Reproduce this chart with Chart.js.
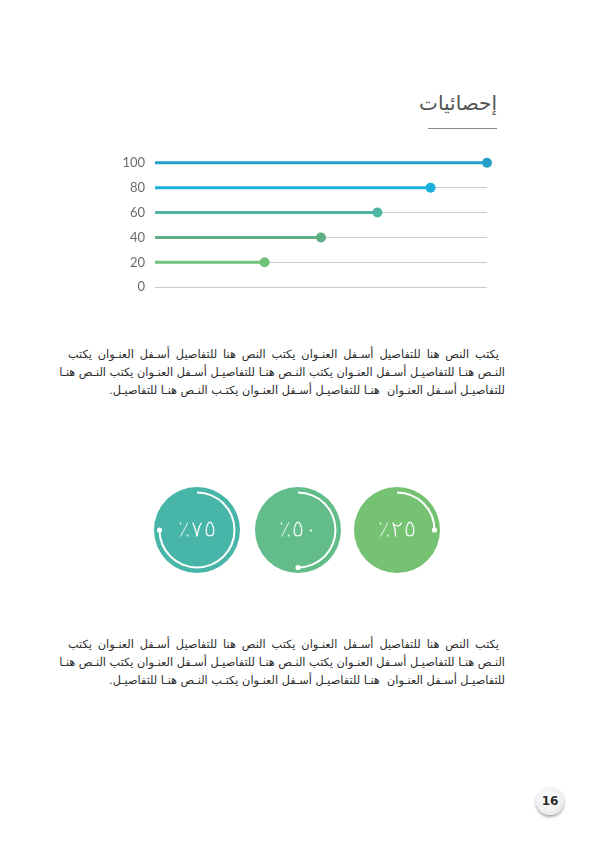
<!DOCTYPE html>
<html lang="ar">
<head>
<meta charset="utf-8">
<script src="https://cdn.jsdelivr.net/npm/chart.js@4/dist/chart.umd.min.js"></script>
<style>
  html, body { margin: 0; padding: 0; background: #fff; }
  #page { position: relative; width: 595px; height: 842px; overflow: hidden; }
  .titulo {
    position: absolute; right: 98px; top: 91px;
    font-family: "DejaVu Sans", sans-serif; font-size: 20px; color: #555;
    direction: rtl;
  }
  .subrayado { position: absolute; left: 428px; top: 128px; width: 69px; height: 1px; background: #8a8a8a; }
  .parrafo {
    position: absolute; left: 68px; width: 437px;
    font-family: "DejaVu Sans", sans-serif; font-size: 11.3px; color: #2a2a2a;
    line-height: 18px; direction: rtl;
  }
  .parrafo div { text-align: justify; text-align-last: justify; white-space: nowrap; }
  .parrafo div.primera { margin-right: 6px; }
  .parrafo div.ultima { text-align: right; text-align-last: right; }
  #barras { position: absolute; left: 100px; top: 145px; width: 400px; height: 160px; }
  .circulo { position: absolute; width: 96px; height: 96px; }
  .circulo canvas { position: absolute; left: 0; top: 0; }
  .pagina {
    position: absolute; left: 536px; top: 787px; width: 28px; height: 28px; border-radius: 50%;
    background: radial-gradient(circle at 45% 40%, #ffffff 0%, #f1f1f1 55%, #d6d6d6 100%);
    box-shadow: 0 2px 3px rgba(0,0,0,0.35);
    font-family: "DejaVu Sans", sans-serif; font-weight: bold; font-size: 12px; color: #2a2a2a;
    text-align: center; line-height: 28px;
  }
</style>
</head>
<body>
<div id="page">
  <div class="titulo">إحصائيات</div>
  <div class="subrayado"></div>

  <div id="barras"><canvas id="graficoBarras" width="400" height="160"></canvas></div>

  <div class="parrafo" style="top:346px">
    <div class="primera">يكتب النص هنا للتفاصيل أسـفل العنـوان يكتب النص هنا للتفاصيل أسـفل العنـوان يكتب</div>
    <div>النـص هنـا للتفاصيـل أسـفل العنـوان يكتب النـص هنـا للتفاصيـل أسـفل العنـوان يكتب النـص هنـا</div>
    <div class="ultima">للتفاصيـل أسـفل العنـوان &nbsp;هنـا للتفاصيـل أسـفل العنـوان يكتـب النـص هنـا للتفاصيـل.</div>
  </div>

  <div class="circulo" style="left:149px; top:482px"><canvas id="fondo0" width="96" height="96"></canvas><canvas id="arco0" width="96" height="96"></canvas></div>
  <div class="circulo" style="left:250px; top:482px"><canvas id="fondo1" width="96" height="96"></canvas><canvas id="arco1" width="96" height="96"></canvas></div>
  <div class="circulo" style="left:349px; top:482px"><canvas id="fondo2" width="96" height="96"></canvas><canvas id="arco2" width="96" height="96"></canvas></div>

  <div class="parrafo" style="top:636px">
    <div class="primera">يكتب النص هنا للتفاصيل أسـفل العنـوان يكتب النص هنا للتفاصيل أسـفل العنـوان يكتب</div>
    <div>النـص هنـا للتفاصيـل أسـفل العنـوان يكتب النـص هنـا للتفاصيـل أسـفل العنـوان يكتب النـص هنـا</div>
    <div class="ultima">للتفاصيـل أسـفل العنـوان &nbsp;هنـا للتفاصيـل أسـفل العنـوان يكتـب النـص هنـا للتفاصيـل.</div>
  </div>

  <div class="pagina">16</div>
</div>

<script>
// datos del gráfico de barras (filas y progreso)
const filas = [100, 80, 60, 40, 20];
const progreso = [100, 83, 67, 50, 33];
const coloresFilas = ['#25a0c8', '#19b0dc', '#4db5a2', '#5fae86', '#70c179'];
const etiquetasY = ['0', '20', '40', '60', '80', '100'];

// datos de los círculos
const porcentajes = [75, 50, 25];
const textosPorcentaje = ['٪٧٥', '٪٥٠', '٪٢٥'];
const coloresCirculos = ['#47b5a7', '#62bd8b', '#75c273'];

// ---------- gráfico de líneas horizontales ----------
const ctx = document.getElementById('graficoBarras').getContext('2d');

const conjuntos = filas.map((fila, i) => ({
    data: [{ x: 0, y: fila }, { x: progreso[i], y: fila }],
    borderColor: coloresFilas[i],
    backgroundColor: coloresFilas[i],
    borderWidth: 3,
    pointRadius: [0, 5],
    pointHoverRadius: [0, 5],
    pointBorderWidth: 0,
    clip: false
}));

new Chart(ctx, {
    type: 'line',
    data: { datasets: conjuntos },
    options: {
        responsive: false,
        animation: false,
        layout: { padding: { top: 16, right: 13, bottom: 14, left: 0 } },
        plugins: { legend: { display: false }, tooltip: { enabled: false } },
        scales: {
            x: { type: 'linear', min: 0, max: 100, display: false },
            y: {
                min: 0, max: 100,
                afterFit: (escala) => { escala.width = 55; },
                border: { display: false },
                grid: { color: '#c9c9c9', lineWidth: 1, drawTicks: false },
                ticks: {
                    stepSize: 20,
                    padding: 10,
                    color: '#6a6a6a',
                    font: { family: 'Lato', size: 13 },
                    callback: (v) => etiquetasY[v / 20]
                }
            }
        }
    }
});

// ---------- círculos de porcentaje ----------
const puntoFinal = {
    id: 'puntoFinal',
    afterDatasetsDraw(chart, args, opts) {
        const arco = chart.getDatasetMeta(0).data[0];
        const r = (arco.innerRadius + arco.outerRadius) / 2;
        const c = chart.ctx;
        c.save();
        c.fillStyle = '#ffffff';
        c.beginPath();
        c.arc(arco.x + r * Math.cos(arco.endAngle), arco.y + r * Math.sin(arco.endAngle), 2.6, 0, Math.PI * 2);
        c.fill();
        // texto central (trazo fino)
        c.font = '24px "DejaVu Sans"';
        c.textAlign = 'center';
        c.textBaseline = 'middle';
        c.direction = 'ltr';
        c.fillStyle = '#ffffff';
        c.fillText(opts.texto, arco.x, arco.y + 1);
        c.strokeStyle = opts.fondo;
        c.lineWidth = 0.8;
        c.strokeText(opts.texto, arco.x, arco.y + 1);
        c.restore();
    }
};

porcentajes.forEach((p, i) => {
    new Chart(document.getElementById('fondo' + i), {
        type: 'pie',
        data: { datasets: [{ data: [100], backgroundColor: coloresCirculos[i], borderWidth: 0 }] },
        options: {
            responsive: false, animation: false, radius: 43,
            plugins: { legend: { display: false }, tooltip: { enabled: false } }
        }
    });
    new Chart(document.getElementById('arco' + i), {
        type: 'doughnut',
        data: { datasets: [{ data: [p, 100 - p], backgroundColor: ['#ffffff', 'rgba(0,0,0,0)'], borderWidth: 0 }] },
        options: {
            responsive: false, animation: false, radius: 38.5, cutout: '94.8%',
            plugins: {
                legend: { display: false }, tooltip: { enabled: false },
                puntoFinal: { texto: textosPorcentaje[i], fondo: coloresCirculos[i] }
            }
        },
        plugins: [puntoFinal]
    });
});
</script>
</body>
</html>
